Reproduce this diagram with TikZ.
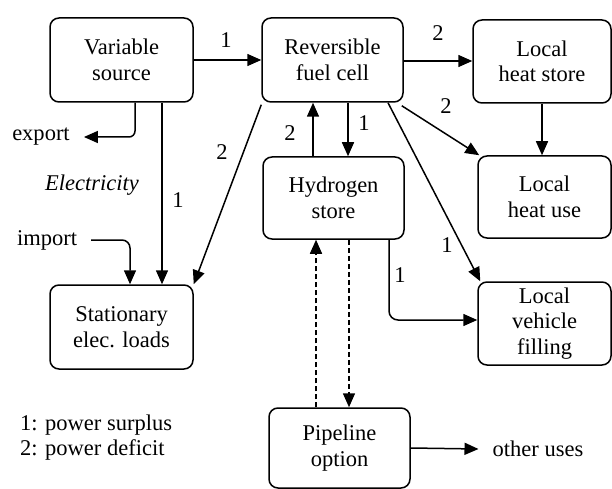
\documentclass[tikz,border=0pt]{standalone}
\usepackage{fontspec}
\setmainfont{Liberation Serif}
\usetikzlibrary{arrows.meta}
\begin{document}
\begin{tikzpicture}[x=1pt,y=-1pt,
  box/.style={draw, line width=1.5pt, rounded corners=9pt, align=center,
    inner sep=0pt, font=\fontsize{22.5}{25.5}\selectfont},
  lbl/.style={font=\fontsize{22.5}{25.5}\selectfont, inner sep=0pt},
  txt/.style={font=\fontsize{22.5}{25.5}\selectfont, inner xsep=14pt, inner ysep=0pt},
  arr/.style={line width=1.5pt, -{Triangle[length=14pt,width=12pt]}},
  dsh/.style={arr, dash pattern=on 5pt off 3pt}
]
\useasboundingbox (0,0) rectangle (612,489);

% boxes
\node[box, minimum width=143pt, minimum height=84pt] (VS) at (121.5,60) {Variable\\source};
\node[box, minimum width=141pt, minimum height=84pt] (RFC) at (332.5,60) {Reversible\\fuel cell};
\node[box, minimum width=138pt, minimum height=83pt] (LHS) at (542,61.5) {Local\\heat store};
\node[box, minimum width=133pt, minimum height=82pt] (LHU) at (544.5,197) {Local\\heat use};
\node[box, minimum width=141pt, minimum height=82pt] (HS) at (333.5,198) {Hydrogen\\store};
\node[box, minimum width=143pt, minimum height=84pt] (SEL) at (121.5,327) {Stationary\\elec. loads};
\node[box, minimum width=133pt, minimum height=83pt] (LVF) at (544.5,323.5) {Local\\vehicle\\filling};
\node[box, minimum width=141pt, minimum height=80pt] (PO) at (339.5,448) {Pipeline\\option};

% free texts
\node[txt] (export) at (41,137) {export};
\node[txt] (import) at (47,240) {import};
\node[txt] (other) at (538,449) {other uses};
\node[lbl, font=\fontsize{22.5}{25.5}\selectfont\itshape] (elec) at (92,185) {Electricity};
\node[lbl, align=left, anchor=west] (legend) at (20,437.5) {1: power surplus\\2: power deficit};

% connectors
\draw[arr] (VS.east) -- (RFC.west);
\node[lbl] (l1) at (226,40) {1};

\draw[arr, rounded corners=6pt] ([xshift=13.5pt]VS.south) |- (export.east);

\draw[arr] ([xshift=40.5pt]VS.south) -- ([xshift=40.5pt]SEL.north);
\node[lbl] (l2) at (178,200) {1};

\draw[arr, rounded corners=8pt] (import.east) -| ([xshift=8.5pt]SEL.north);

\draw[arr] ([yshift=-2pt]RFC.south west) -- (SEL.north east);
\node[lbl] (l3) at (222,152) {2};

\draw[arr] ([yshift=-1pt]RFC.east) -- ([yshift=-1pt]RFC.east -| LHS.west);
\node[lbl] (l4) at (438,33) {2};

\draw[arr] ([xshift=-2pt,yshift=-3pt]RFC.south east) -- ([xshift=2pt]LHU.north west);
\node[lbl] (l5) at (446,106) {2};

\draw[arr] (LHS.south) -- (LHS.south |- LHU.north);

\draw[arr] ([xshift=15.5pt]RFC.south) -- ([xshift=15.5pt]RFC.south |- HS.north);
\node[lbl] (l6) at (364,123) {1};

\draw[arr] ([xshift=-20.5pt]HS.north) -- ([xshift=-20.5pt]HS.north |- RFC.south);
\node[lbl] (l7) at (290,133) {2};

\draw[arr] ([xshift=55.5pt]RFC.south) -- ([xshift=3pt]LVF.north west);
\node[lbl] (l8) at (447,245) {1};

\draw[arr, rounded corners=9pt] ([xshift=55.5pt]HS.south) |- ([yshift=3.5pt]LVF.west);
\node[lbl] (l9) at (400,275) {1};

\draw[dsh] ([xshift=-23.5pt]PO.north) -- ([xshift=-23.5pt]PO.north |- HS.south);
\draw[dsh] ([xshift=15.5pt]HS.south) -- ([xshift=15.5pt]HS.south |- PO.north);

\draw[arr] (PO.east) -- (other.west);
\end{tikzpicture}
\end{document}
